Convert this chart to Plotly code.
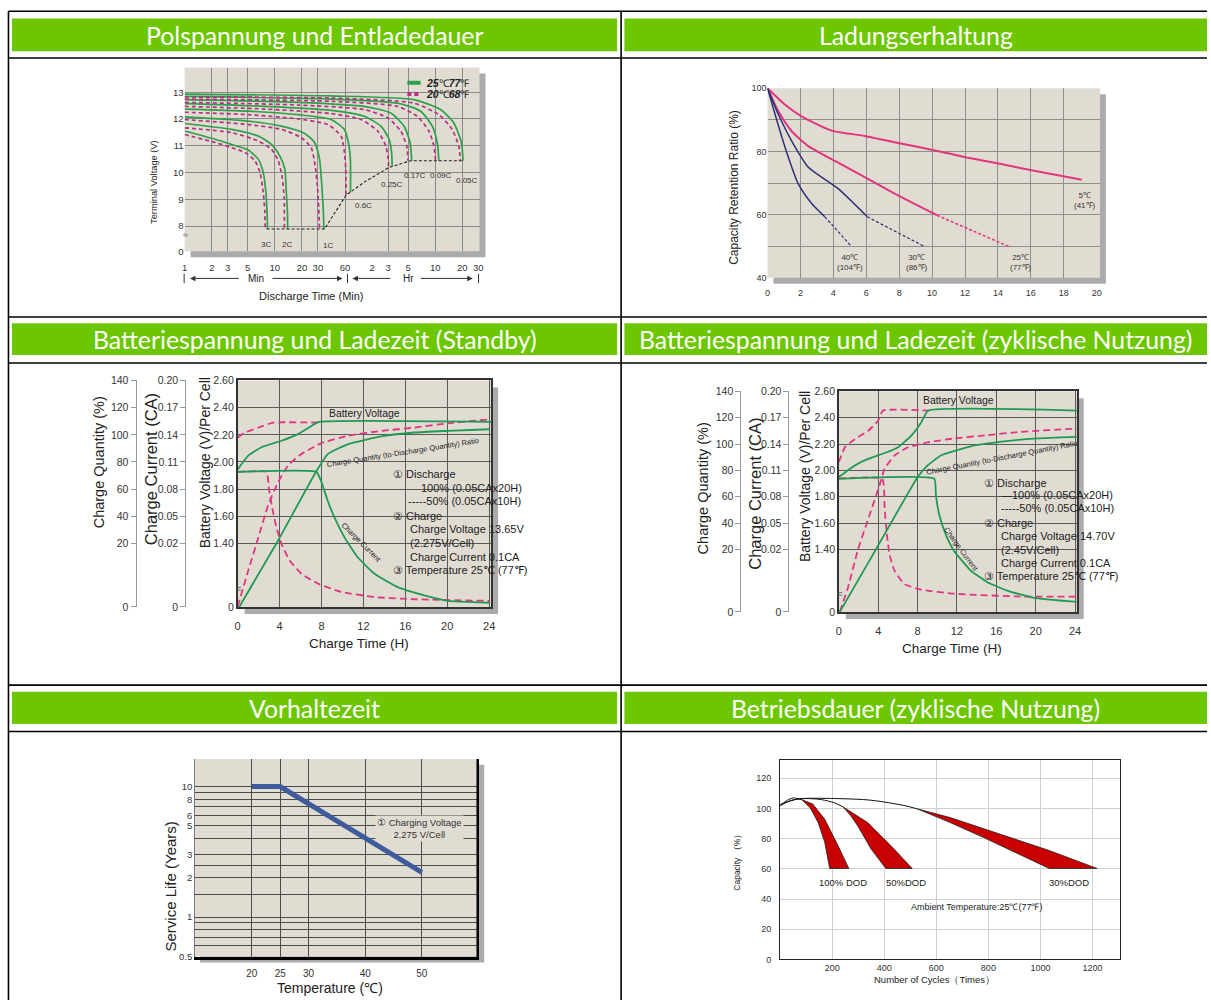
import math
import plotly.graph_objects as go

# ------------------------------------------------------------------ data
HEADERS = [
    ["Polspannung und Entladedauer", "Ladungserhaltung"],
    ["Batteriespannung und Ladezeit (Standby)", "Batteriespannung und Ladezeit (zyklische Nutzung)"],
    ["Vorhaltezeit", "Betriebsdauer (zyklische Nutzung)"],
]

# Chart 1: terminal voltage vs discharge time (minutes)
RATES = ["3C", "2C", "1C", "0.6C", "0.25C", "0.17C", "0.09C", "0.05C"]
T25 = [
    [1, 2.18, 3.3, 5.08, 6.54, 7.43, 7.95, 8.22, 8.29],
    [1, 3.3, 6.54, 9.18, 11.35, 12.9, 13.4, 13.8, 13.85],
    [1, 5.08, 11.8, 21.4, 27.6, 31.3, 33.2, 34.4, 35.0],
    [1, 5.08, 18.1, 42.1, 59.1, 65.4, 68.8, 69.0],
    [1, 7.75, 42.1, 98.2, 150, 185, 197, 200],
    [1, 18.1, 98.2, 193, 271, 316, 329],
    [1, 42.1, 229, 414, 556, 631, 659],
    [1, 42.1, 349, 687, 964, 1171, 1222],
]
V25 = [
    [11.55, 11.24, 11.05, 10.84, 10.50, 10.01, 9.27, 8.41, 7.89],
    [11.83, 11.61, 11.36, 11.05, 10.62, 10.13, 9.27, 8.53, 7.89],
    [12.08, 11.92, 11.73, 11.46, 11.12, 10.50, 9.51, 8.65, 7.89],
    [12.37, 12.29, 12.16, 11.98, 11.61, 11.12, 10.50, 9.27],
    [12.57, 12.47, 12.32, 12.10, 11.73, 11.24, 10.75, 10.23],
    [12.72, 12.62, 12.47, 12.22, 11.73, 11.12, 10.44],
    [12.84, 12.74, 12.59, 12.29, 11.73, 11.12, 10.44],
    [12.93, 12.86, 12.72, 12.35, 11.85, 11.12, 10.44],
]
T20 = [
    [1, 2.18, 3.3, 4.67, 6.01, 6.83, 7.43, 7.75, 7.8],
    [1, 3.3, 6.54, 9.18, 10.9, 12.0, 12.7, 12.75],
    [1, 5.08, 11.8, 19.7, 25.3, 28.0, 30.0, 31.3],
    [1, 5.08, 18.1, 38.7, 54.3, 59.1, 61.1, 61.6],
    [1, 7.75, 42.1, 90.2, 138, 170, 181, 182],
    [1, 18.1, 98.2, 178, 249, 290, 300],
    [1, 42.1, 229, 380, 511, 580, 606],
    [1, 42.1, 349, 659, 924, 1094, 1142],
]
V20 = [
    [11.42, 11.12, 10.93, 10.75, 10.44, 10.01, 9.27, 8.53, 7.89],
    [11.67, 11.49, 11.18, 10.87, 10.44, 9.88, 9.02, 7.89],
    [11.98, 11.79, 11.61, 11.30, 10.93, 10.25, 9.27, 7.89],
    [12.25, 12.16, 12.00, 11.79, 11.36, 10.75, 10.13, 9.08],
    [12.47, 12.37, 12.20, 11.98, 11.55, 10.99, 10.50, 10.19],
    [12.62, 12.52, 12.35, 12.04, 11.55, 10.99, 10.44],
    [12.74, 12.66, 12.47, 12.10, 11.55, 10.99, 10.44],
    [12.82, 12.78, 12.59, 12.16, 11.61, 10.99, 10.44],
]
CUT_T = [8.1, 35.5, 61.6, 98, 185, 321, 1242]
CUT_V = [7.89, 7.89, 9.15, 9.64, 10.19, 10.44, 10.44]
X1_TICKS = [1, 2, 3, 5, 10, 20, 30, 60, 120, 180, 300, 600, 1200, 1800]
X1_LABELS = ["1", "2", "3", "5", "10", "20", "30", "60", "2", "3", "5", "10", "20", "30"]
X1_GRID = [2, 3, 5, 10, 20, 30, 60, 180, 300, 600, 1200]
Y1_TICKS = [8, 9, 10, 11, 12, 13]

# Chart 2: capacity retention vs storage months
C2_T5 = [0, 1.07, 2.07, 3.89, 5.9, 8.1, 10.1, 12.1, 14.2, 16.2, 19.1]
C2_R5 = [100, 94.8, 91.1, 86.6, 84.9, 82.5, 80.4, 78.1, 76.0, 73.9, 71.0]
C2_T25 = [0, 0.66, 1.47, 2.48, 4.09, 6.1, 8.1, 10.3]
C2_R25 = [100, 92.7, 86.4, 81.7, 77.0, 71.3, 65.6, 59.8]
C2_T25D = [10.3, 12.5, 14.66]
C2_R25D = [59.8, 54.9, 49.9]
C2_T30 = [0, 0.66, 1.47, 2.48, 4.29, 6.06]
C2_R30 = [100, 91.7, 83.3, 75.0, 68.2, 59.3]
C2_T30D = [6.06, 9.53]
C2_R30D = [59.3, 49.9]
C2_T40 = [0, 0.46, 1.07, 1.87, 2.68, 3.48]
C2_R40 = [100, 91.7, 81.2, 69.7, 63.5, 59.3]
C2_T40D = [3.48, 5.1]
C2_R40D = [59.3, 49.9]
C2_LABELS = ["5℃<br>(41℉)", "25℃<br>(77℉)", "30℃<br>(86℉)", "40℃<br>(104℉)"]
X2_TICKS = [0, 2, 4, 6, 8, 10, 12, 14, 16, 18, 20]
Y2_TICKS = [40, 60, 80, 100]

# Chart 3: standby charging (hours)
C3_T_V100 = [0, 1.01, 2.28, 4.19, 5.77, 7.04, 7.74, 24.2]
C3_V100 = [1.945, 2.047, 2.108, 2.156, 2.205, 2.265, 2.295, 2.295]
C3_T_V50 = [0, 0.7, 1.97, 3.39, 7.74]
C3_V50 = [2.18, 2.217, 2.253, 2.29, 2.29]
C3_T_I100 = [0, 7.51, 7.99, 8.62, 9.26, 10.21, 11.48, 13.06, 15.28, 17.82, 20.04, 24.0]
C3_I100 = [0.099, 0.099, 0.088, 0.0662, 0.0481, 0.0262, 0.0155, 0.0104, 0.0062, 0.0036, 0.0019, 0.0013]
C3_T_I50 = [0, 2.76, 2.98, 3.30, 3.71, 4.19, 4.98, 6.09, 7.67, 9.89, 13.06, 16.87, 24.0]
C3_I50 = [0.099, 0.099, 0.0808, 0.0589, 0.0371, 0.0197, 0.0145, 0.0104, 0.0073, 0.0047, 0.0031, 0.0024, 0.0019]
C3_T_Q100 = [0.16, 3.71, 7.51, 8.62, 10.53, 13.7, 16.87, 20.04, 24.0]
C3_Q100 = [0, 20, 73.1, 85.9, 93.2, 98.8, 101.7, 102.9, 104.1]
C3_T_Q50 = [0, 1.01, 1.97, 2.92, 3.87, 4.82, 6.09, 7.99, 10.53, 13.7, 16.87, 20.04, 24.0]
C3_Q50 = [0, 11.4, 24.1, 48.4, 65.3, 77.5, 85.9, 93.9, 99.3, 102.9, 105.3, 108.5, 111.4]
C3_NOTES = ["① Discharge", "100% (0.05CAx20H)", "-----50% (0.05CAx10H)", "② Charge",
            "Charge Voltage 13.65V", "(2.275V/Cell)", "Charge Current 0.1CA", "③ Temperature 25℃ (77℉)"]

# Chart 4: cyclic charging (hours)
C4_T_V100 = [0, 1.62, 2.96, 4.65, 5.99, 7.34, 8.35, 9.09, 24.2]
C4_V100 = [1.95, 2.0375, 2.0875, 2.1325, 2.175, 2.2625, 2.3625, 2.455, 2.455]
C4_T_V50 = [0, 0.61, 1.62, 2.96, 3.97, 4.48, 9.09]
C4_V50 = [2.0625, 2.175, 2.2375, 2.30, 2.375, 2.455, 2.455]
C4_T_I100 = [0, 9.69, 9.86, 10.2, 10.87, 11.71, 13.4, 15.08, 17.1, 19.8, 24.17]
C4_I100 = [0.1006, 0.1006, 0.0819, 0.0594, 0.0369, 0.0195, 0.0132, 0.0095, 0.0068, 0.0045, 0.0032]
C4_T_I50 = [0, 4.41, 4.65, 4.88, 5.15, 5.65, 6.66, 8.35, 11.71, 18.44, 24.17]
C4_I50 = [0.1006, 0.1006, 0.0669, 0.0369, 0.0184, 0.0132, 0.0089, 0.0071, 0.0058, 0.0049, 0.0049]
C4_T_Q100 = [0.1, 3.77, 8.01, 9.02, 10.37, 13.4, 16.76, 20.13, 24.17]
C4_Q100 = [0, 20, 75.0, 83.8, 91.3, 98.3, 102.0, 104.3, 105.5]
C4_T_Q50 = [0.1, 0.94, 1.95, 3.13, 4.14, 4.65, 5.65, 7.0, 9.02, 11.71, 15.08, 18.44, 24.17]
C4_Q50 = [0, 7.9, 20, 46.3, 68.8, 81.3, 91.3, 97.5, 101.3, 104.3, 106.8, 109.3, 111.8]
C4_NOTES = ["① Discharge", "—100% (0.05CAx20H)", "-----50% (0.05CAx10H)", "② Charge",
            "Charge Voltage 14.70V", "(2.45V/Cell)", "Charge Current 0.1CA", "③ Temperature 25℃ (77℉)"]

CH_T_TICKS = [0, 4, 8, 12, 16, 20, 24]
V_TICKS = [2.60, 2.40, 2.20, 2.00, 1.80, 1.60, 1.40]
Q_TICKS = ["140", "120", "100", "80", "60", "40", "20"]
I_TICKS = ["0.20", "0.17", "0.14", "0.11", "0.08", "0.05", "0.02"]

# Chart 5: service life vs temperature
TEMP = [20, 25, 50]
LIFE = [10, 10, 2.2]
X5_TICKS = [20, 25, 30, 40, 50]
Y5_TICKS = [0.5, 1, 2, 3, 5, 6, 8, 10]
Y5_GRID = [0.6, 0.7, 0.8, 0.9, 1.5, 2.5, 4, 7, 9]

# Chart 6: capacity vs cycles
DOD_LABELS = ["100% DOD", "50%DOD", "30%DOD"]
CUR_X = [[0, 25.4, 50.7, 82.4],
         [0, 44.4, 95.1, 158.5, 209.3, 241],
         [0, 69.8, 209.3, 348.8, 475.6, 526.3]]
CUR_Y = [[101.6, 105.3, 107.0, 105.9],
         [102.0, 105.5, 106.6, 105.9, 103.7, 101.1],
         [102.7, 106.3, 106.6, 105.5, 102.0, 99.8]]
EDGE_A_X = [[82.4, 115, 145.9, 171.2, 190.2],
            [241, 270, 298, 348.8, 405.9],
            [526.3, 653.2, 780, 906.8, 1033.7]]
EDGE_A_Y = [[105.9, 100.5, 90.7, 77.7, 60.3],
            [101.1, 95.5, 88.5, 73.3, 60.3],
            [99.8, 90.7, 80.9, 70.7, 60.3]]
EDGE_B_X = [[82.4, 125, 171.2, 222, 263.8],
            [241, 336.1, 424.9, 507.3],
            [526.3, 653.2, 843.4, 1033.7, 1217.6]]
EDGE_B_Y = [[105.9, 103.0, 92.9, 75.5, 60.3],
            [101.1, 90.7, 75.5, 60.3],
            [99.8, 94.0, 83.1, 72.2, 60.3]]
X6_TICKS = [200, 400, 600, 800, 1000, 1200]
Y6_TICKS = [0, 20, 40, 60, 80, 100, 120]

# ------------------------------------------------------------------ helpers
W, H = 1211, 1006
FONT = "Liberation Sans, Arial, sans-serif"
HFONT = "Lato, 'Open Sans', sans-serif"
BEIGE = "#E1DCD2"
SHADOW = "#ABABAB"


def px(x):
    return x / W


def py(y):
    return 1 - y / H


def xdom(l, r):
    return [px(l), px(r)]


def ydom(t, b):
    return [py(b), py(t)]


shapes, annos = [], []


def rect(x0, y0, x1, y1, fill, layer="below"):
    shapes.append(dict(type="rect", xref="paper", yref="paper", x0=px(x0), x1=px(x1),
                       y0=py(y1), y1=py(y0), fillcolor=fill, line=dict(width=0), layer=layer))


def seg(x0, y0, x1, y1, color="black", width=1.5, dash="solid", layer="above"):
    shapes.append(dict(type="line", xref="paper", yref="paper", x0=px(x0), x1=px(x1),
                       y0=py(y0), y1=py(y1), line=dict(color=color, width=width, dash=dash), layer=layer))


def note(x, y, s, size=10, color="#222", xref="paper", yref="paper", family=FONT, **kw):
    if xref == "paper":
        x = px(x)
    if yref == "paper":
        y = py(y)
    d = dict(x=x, y=y, xref=xref, yref=yref, text=s, showarrow=False, xanchor="center",
             yanchor="middle", font=dict(family=family, size=size, color=color))
    d.update(kw)
    annos.append(d)


def dname(n, axis):
    return axis if n == 1 else f"{axis}{n}"


fig = go.Figure()


def line(x, y, n, color, width=1.5, dash="solid", shape="spline", smoothing=0.6, yax=None):
    fig.add_trace(go.Scatter(x=x, y=y, mode="lines", xaxis=dname(n, "x"), yaxis=yax or dname(n, "y"),
                             line=dict(color=color, width=width, dash=dash, shape=shape,
                                       smoothing=smoothing if shape == "spline" else None),
                             hoverinfo="skip", showlegend=False))


def disp(vals, level, per_v, bottom, base_v=1.40):
    """Map a quantity onto the chart's voltage-position scale (broken below base level)."""
    out = []
    for q in vals:
        if q >= level:
            out.append(base_v + (q - level) / per_v)
        else:
            out.append(bottom + (q / level) * (base_v - bottom))
    return out


AX = {}


def axis(name, **kw):
    d = dict(showgrid=False, zeroline=False, showline=False, ticks="", fixedrange=True,
             tickfont=dict(family=FONT, size=10, color="#333"))
    d.update(kw)
    AX[name] = d


# ------------------------------------------------------------------ table
for yy in [5.3, 52.7, 314.7, 361.3, 687.3, 734.3]:
    seg(5.5, yy, 1211, yy, width=1.6)
seg(5.5, 5.3, 5.5, 1006, width=1.6)
seg(621.7, 5.3, 621.7, 1006, width=1.6)
HDR_Y = [(12.7, 45.7), (321, 353.3), (694, 726.7)]
HDR_X = [(9, 617.7), (625, 1211)]
for r, (t, b) in enumerate(HDR_Y):
    for c, (l, rr) in enumerate(HDR_X):
        rect(l, t, rr, b, "#6CC700", layer="below")
        note((l + rr) / 2 if c == 0 else 918, (t + b) / 2 + 0.5, HEADERS[r][c], size=24.8,
             color="white", family=HFONT)

# ------------------------------------------------------------------ chart 1
G1, M1 = "#2DA04B", "#B5307F"
rect(188.7, 68.3, 485.3, 254.3, SHADOW)
rect(182.7, 62.3, 479.3, 248.3, BEIGE)
for i in range(len(RATES)):
    line(T20[i], V20[i], 1, M1, width=1.7, dash="4px,3px")
    line(T25[i], V25[i], 1, G1, width=1.7)
line(CUT_T, CUT_V, 1, "#222", width=1.1, dash="3px,2px", shape="linear")
L1_SHIFT = [(-1, -9, "center"), (-1, -9, "center"), (4, -10, "center"), (3, -7, "left"),
            (0, -12, "center"), (3, -8, "center"), (2, -8, "center"), (4, -13, "center")]
for i, r in enumerate(RATES):
    dx, dy, anc = L1_SHIFT[i]
    note(math.log10(T25[i][-1]), V25[i][-1], r, size=8, color="#333", xref="x", yref="y",
         xshift=dx, yshift=dy, xanchor=anc, yanchor="top")
axis("xaxis", domain=xdom(182.7, 479.3), range=[0, math.log10(1860)], type="log", anchor="y",
     tickmode="array", tickvals=X1_TICKS, ticktext=X1_LABELS, ticklabelstandoff=9,
     tickfont=dict(family=FONT, size=9.5, color="#333"),
     minor=dict(tickmode="array", tickvals=X1_GRID, showgrid=True, gridcolor="#8a8a8a",
                gridwidth=1, ticks=""))
axis("yaxis", domain=ydom(62.3, 248.3), range=[7.055, 13.92], anchor="x", tickmode="array",
     tickvals=[7.06] + Y1_TICKS, ticktext=["0"] + [str(v) for v in Y1_TICKS],
     tickfont=dict(family=FONT, size=9.5, color="#333"),
     minor=dict(tickmode="array", tickvals=Y1_TICKS, showgrid=True, gridcolor="#8a8a8a",
                gridwidth=1, ticks=""))
note(183.3, 231.5, "≈", size=9, color="#555")
# legend
seg(406.7, 77.7, 420, 77.7, color=G1, width=4)
seg(406.7, 89, 420, 89, color=M1, width=4, dash="4px,3px")
note(423.5, 77.7, "<b><i>25</i></b>℃<b><i>77</i></b>℉", size=10.5, xanchor="left")
note(423.5, 89.5, "<b><i>20</i></b>℃<b><i>68</i></b>℉", size=10.5, xanchor="left")
note(151.7, 178.3, "Terminal Voltage (V)", size=9.3, textangle=-90)
note(310, 293, "Discharge Time (Min)", size=11)
# Min / Hr span row
for xb in [182.2, 346.5, 478.3]:
    seg(xb, 271, xb, 280.5, color="#333", width=1)
for tip, off in [(188, 52), (341.5, -73), (351.5, 41), (472.5, -55)]:
    annos.append(dict(x=px(tip), y=py(275.7), xref="paper", yref="paper", ax=off, ay=0,
                      text=" ", showarrow=True, arrowhead=2, arrowsize=1.1, arrowwidth=1,
                      arrowcolor="#333"))
note(254, 275.7, "Min", size=10)
note(408.3, 275.7, "Hr", size=10)

# ------------------------------------------------------------------ chart 2
MAG2, NAVY = "#E0367D", "#2F3176"
rect(775, 89.3, 1109.3, 281, SHADOW)
rect(769, 83.3, 1103.3, 275, BEIGE)
line(C2_T5, C2_R5, 2, MAG2, width=2)
line(C2_T25, C2_R25, 2, MAG2, width=2)
line(C2_T25D, C2_R25D, 2, MAG2, width=1.6, dash="3px,2px", shape="linear")
line(C2_T30, C2_R30, 2, NAVY, width=1.5)
line(C2_T30D, C2_R30D, 2, NAVY, width=1.2, dash="3px,2px", shape="linear")
line(C2_T40, C2_R40, 2, NAVY, width=1.5)
line(C2_T40D, C2_R40D, 2, NAVY, width=1.2, dash="3px,2px", shape="linear")
ends2 = [(C2_T5[-1], C2_R5[-1], 3, -9), (C2_T25D[-1], C2_R25D[-1], 12, -5),
         (C2_T30D[-1], C2_R30D[-1], -7, -5), (C2_T40D[-1], C2_R40D[-1], -1, -5)]
for (xe, ye, dx, dy), s in zip(ends2, C2_LABELS):
    note(xe, ye, s, size=8, color="#333", xref="x2", yref="y2", xshift=dx, yshift=dy, yanchor="top")
axis("xaxis2", domain=xdom(769, 1103.3), range=[0, 20.2], anchor="y2", tickmode="array",
     tickvals=X2_TICKS, ticklabelstandoff=8, tickfont=dict(family=FONT, size=9, color="#333"),
     minor=dict(tickmode="array", tickvals=X2_TICKS[1:-1], showgrid=True, gridcolor="#8f8f8f",
                gridwidth=1, ticks=""))
axis("yaxis2", domain=ydom(83.3, 275), range=[40, 100], anchor="x2", tickmode="array",
     tickvals=Y2_TICKS, tickfont=dict(family=FONT, size=9, color="#333"),
     minor=dict(tickmode="array", tickvals=[50, 60, 70, 80, 90], showgrid=True, gridcolor="#8f8f8f",
                gridwidth=1, ticks=""))
note(735, 183.3, "Capacity Retention Ratio (%)", size=12, textangle=-90)

# ------------------------------------------------------------------ charts 3 & 4
G3, M3 = "#1E9A54", "#E0367F"


def charge_chart(n, yq, yi, box, bottom, xr, data, notes, notes_pos, pos_q, pos_i,
                 titles, label_pos):
    l, t, r, b = box
    rect(l + 7, t + 7, r + 7, b + 7, SHADOW)
    rect(l, t, r, b, BEIGE)
    (tv100, v100, tv50, v50, ti100, i100, ti50, i50, tq100, q100, tq50, q50) = data
    dash = "7px,4px"
    line(tq50, disp(q50, 20, 100, bottom), n, M3, width=1.8, dash=dash, smoothing=0.4)
    line(ti50, disp(i50, 0.02, 0.15, bottom), n, M3, width=1.8, dash=dash, smoothing=0.4)
    line(tv50, v50, n, M3, width=1.8, dash=dash, smoothing=0.4)
    line(tq100, disp(q100, 20, 100, bottom), n, G3, width=1.8, smoothing=0.4)
    line(ti100, disp(i100, 0.02, 0.15, bottom), n, G3, width=1.8, smoothing=0.4)
    line(tv100, v100, n, G3, width=1.8, smoothing=0.4)
    xn, yn = dname(n, "x"), dname(n, "y")
    grid = dict(showgrid=True, gridcolor="#5a5a5a", gridwidth=1)
    tf = dict(family=FONT, size=10.5, color="#333")
    axis(f"xaxis{n}", domain=xdom(l, r), range=[0, xr], anchor=yn, tickmode="array",
         tickvals=CH_T_TICKS, ticklabelstandoff=8, tickfont=dict(family=FONT, size=11, color="#333"),
         showline=True, mirror=True, linecolor="#333", linewidth=1.5, **grid)
    axis(f"yaxis{n}", domain=ydom(t, b), range=[bottom - 0.001, 2.601], anchor=xn, tickmode="array",
         tickvals=V_TICKS + [bottom], ticktext=[f"{v:.2f}" for v in V_TICKS] + ["0"],
         tickfont=tf, showline=True, mirror=True, linecolor="#333", linewidth=1.5, **grid)
    for ya_name, pos, labels in [(yq, pos_q, Q_TICKS), (yi, pos_i, I_TICKS)]:
        axis(ya_name.replace("y", "yaxis"), overlaying=yn, anchor="free", position=px(pos), side="left",
             range=[bottom - 0.001, 2.601], tickmode="array", tickvals=V_TICKS + [bottom],
             ticktext=labels + ["0"], ticks="outside", ticklen=5, tickcolor="#999",
             showline=True, linecolor="#999", linewidth=1, tickfont=tf)
        fig.add_trace(go.Scatter(x=[None], y=[None], xaxis=xn, yaxis=ya_name, showlegend=False,
                                 hoverinfo="skip"))
    for s, (xx, yy) in zip(notes, notes_pos):
        note(xx, yy, s, size=11, color="#222", xref=xn, yref=yn, xanchor="left")
    for s, x0, y0, sz in titles:
        note(x0, y0, s, size=sz, textangle=-90)
    (bvx, bvy), (cqx, cqy, cqa), (ccx, ccy, cca), (ctx, cty), (brx, bry) = label_pos
    note(bvx, bvy, "Battery Voltage", size=10.4, xref=xn, yref=yn)
    note(cqx, cqy, "Charge Quantity (to-Discharge Quantity) Ratio", size=7.5, xref=xn, yref=yn,
         textangle=cqa)
    note(ccx, ccy, "Charge Current", size=7.5, xref=xn, yref=yn, textangle=cca)
    note(ctx, cty, "Charge Time (H)", size=13.5)
    note(brx, bry, "≈", size=10, color="#555")


charge_chart(
    3, "y7", "y8", (236, 379, 491, 608.3), 0.93, 24.19,
    (C3_T_V100, C3_V100, C3_T_V50, C3_V50, C3_T_I100, C3_I100, C3_T_I50, C3_I50,
     C3_T_Q100, C3_Q100, C3_T_Q50, C3_Q50),
    C3_NOTES,
    [(14.65, 1.909), (17.3, 1.805), (16.07, 1.708), (14.65, 1.599), (16.23, 1.502),
     (16.23, 1.40), (16.23, 1.30), (14.65, 1.199)],
    133.3, 183.3,
    [("Charge Quantity (%)", 96.7, 461.7, 14.5), ("Charge Current (CA)", 148.3, 468.3, 16.5),
     ("Battery Voltage (V)/Per Cell", 203.3, 462.7, 14)],
    [(12.11, 2.355), (15.76, 2.067, -9), (11.8, 1.405, 45), (358.3, 645), (237.5, 590)],
)
charge_chart(
    4, "y9", "y10", (840.7, 390, 1080, 613.3), 0.925, 24.17,
    (C4_T_V100, C4_V100, C4_T_V50, C4_V50, C4_T_I100, C4_I100, C4_T_I50, C4_I50,
     C4_T_Q100, C4_Q100, C4_T_Q50, C4_Q50),
    C4_NOTES,
    [(14.57, 1.9075), (16.26, 1.8125), (16.26, 1.7175), (14.57, 1.60), (16.26, 1.50),
     (16.26, 1.395), (16.26, 1.295), (14.57, 1.195)],
    741.7, 790,
    [("Charge Quantity (%)", 705, 488.3, 14.5), ("Charge Current (CA)", 756.7, 493.3, 16.5),
     ("Battery Voltage (V)/Per Cell", 806.7, 476.7, 14)],
    [(12.12, 2.53), (16.6, 2.10, -11), (12.45, 1.40, 54), (955, 650), (842, 595)],
)

# ------------------------------------------------------------------ chart 5
rect(198.3, 768, 484, 968, SHADOW)
rect(193.3, 762, 478.3, 962, BEIGE)
note(49.6, math.log10(4.75), "① Charging Voltage<br>2.275 V/Cell", size=9.5, color="#333",
     xref="x5", yref="y5", bgcolor=BEIGE, borderpad=1)
line(TEMP, LIFE, 5, "#3E5C9C", width=5, shape="linear")
grid5 = dict(showgrid=True, gridcolor="#4a4a4a", gridwidth=1)
axis("xaxis5", domain=xdom(193.3, 478.3), range=[10, 60], anchor="y5", tickmode="array",
     tickvals=X5_TICKS, ticklabelstandoff=6, showline=True, linecolor="black", linewidth=2.5,
     tickfont=dict(family=FONT, size=10, color="#333"), **grid5)
axis("yaxis5", domain=ydom(762, 962), range=[-0.303, 1.212], type="log", anchor="x5",
     tickmode="array", tickvals=Y5_TICKS, ticktext=[f"{v:g}" for v in Y5_TICKS],
     showline=True, linecolor="#777", linewidth=1,
     tickfont=dict(family=FONT, size=9.5, color="#333"),
     minor=dict(tickmode="array", tickvals=Y5_GRID, showgrid=True, gridcolor="#4a4a4a",
                gridwidth=1, ticks=""), **grid5)
seg(477.5, 762, 477.5, 963, color="black", width=2.5)
note(168.3, 890.8, "Service Life (Years)", size=15, textangle=-90)
note(329, 994, "Temperature (℃)", size=14)

# ------------------------------------------------------------------ chart 6
RED = "#C80000"
for k in range(3):
    fx = EDGE_A_X[k] + EDGE_B_X[k][::-1]
    fy = EDGE_A_Y[k] + EDGE_B_Y[k][::-1]
    fig.add_trace(go.Scatter(x=fx, y=fy, mode="lines", fill="toself", fillcolor=RED,
                             line=dict(color="#222", width=0.8), xaxis="x6", yaxis="y6",
                             hoverinfo="skip", showlegend=False))
    line(CUR_X[k], CUR_Y[k], 6, "#111", width=1.0, smoothing=0.8)
L6_SHIFT = [4, 7, -4]
for k, s in enumerate(DOD_LABELS):
    mid = (EDGE_A_X[k][-1] + EDGE_B_X[k][-1]) / 2
    note(mid, EDGE_A_Y[k][-1], s, size=9.5, color="#222", xref="x6", yref="y6",
         xshift=L6_SHIFT[k], yshift=-14)
note(754.6, 34.6, "Ambient Temperature:25℃(77℉)", size=9, color="#222", xref="x6", yref="y6")
axis("xaxis6", domain=xdom(781.7, 1123.3), range=[0, 1305], anchor="y6", tickmode="array",
     tickvals=X6_TICKS, showgrid=True, gridcolor="#cfcfcf", showline=True, mirror=True,
     linecolor="#222", linewidth=1.2, ticklabelstandoff=0,
     tickfont=dict(family=FONT, size=9, color="#333"))
axis("yaxis6", domain=ydom(763.3, 965), range=[0, 132], anchor="x6", tickmode="array",
     tickvals=Y6_TICKS, showgrid=True, gridcolor="#cfcfcf", showline=True, mirror=True,
     linecolor="#222", linewidth=1.2, ticklabelstandoff=6,
     tickfont=dict(family=FONT, size=9, color="#333"))
note(738.3, 865, "Capacity （%）", size=8.5, textangle=-90)
note(936.7, 985, "Number of Cycles（Times）", size=9.5)

# ------------------------------------------------------------------ layout
fig.update_layout(width=W, height=H, autosize=False, margin=dict(l=0, r=0, t=0, b=0, pad=0),
                  paper_bgcolor="white", plot_bgcolor="rgba(0,0,0,0)", showlegend=False,
                  font=dict(family=FONT, size=10, color="#222"),
                  shapes=shapes, annotations=annos, **AX)
fig.write_html("out.html", config={"displayModeBar": False},
               post_script="document.body.style.margin='0';")
